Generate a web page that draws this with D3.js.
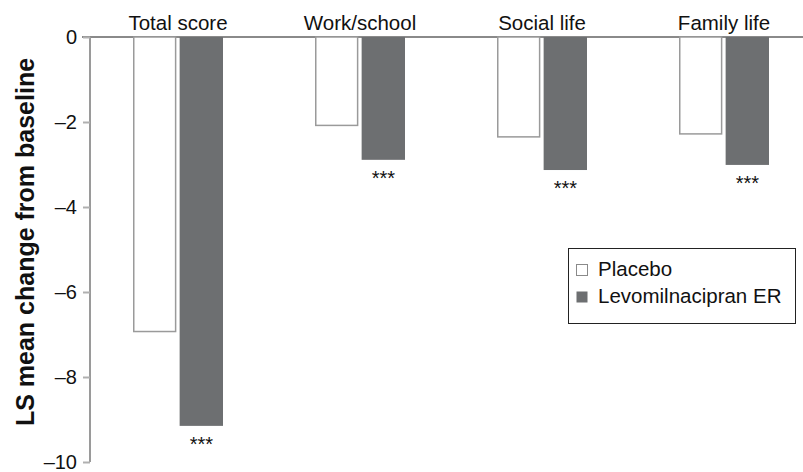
<!DOCTYPE html>
<html><head><meta charset="utf-8">
<script src="https://cdn.jsdelivr.net/npm/d3@7"></script>
<style>body{margin:0;background:#fff}svg{display:block;font-family:Arial,"Liberation Sans",sans-serif}</style>
</head><body>
<svg id="c" width="803" height="472"></svg>
<script>
const categories = ["Total score", "Work/school", "Social life", "Family life"];
const seriesNames = ["Placebo", "Levomilnacipran ER"];
const placebo = [-6.93, -2.08, -2.35, -2.28];
const levomilnacipran = [-9.15, -2.89, -3.13, -3.01];
const significance = ["***", "***", "***", "***"];
const yTicks = [0, -2, -4, -6, -8, -10];

const svg = d3.select("#c");
const y = d3.scaleLinear().domain([0, -10]).range([37, 462]);
const x0 = d3.scaleBand().domain(categories).range([87.5, 814.5]).paddingInner(0.5055).paddingOuter(0.25);
const x1 = d3.scaleBand().domain(seriesNames).range([0, x0.bandwidth()]).paddingInner(0.07);
const colors = {"Placebo": "#ffffff", "Levomilnacipran ER": "#6d6f71"};
const strokes = {"Placebo": "#9a9a9a", "Levomilnacipran ER": "#6d6f71"};

const data = categories.map((c, i) => ({cat: c, vals: [
  {s: seriesNames[0], v: placebo[i]}, {s: seriesNames[1], v: levomilnacipran[i]}], sig: significance[i]}));

// zero line
svg.append("line").attr("x1", 82).attr("x2", 803).attr("y1", y(0)).attr("y2", y(0))
  .attr("stroke", "#8a8a8a").attr("stroke-width", 2);

// y axis
const yAxis = d3.axisLeft(y).tickValues(yTicks).tickSize(7).tickPadding(6)
  .tickFormat(d => d === 0 ? "0" : "\u2013" + Math.abs(d));
const ga = svg.append("g").attr("transform", "translate(90,0)").call(yAxis);
ga.select(".domain").attr("stroke", "#9a9a9a").attr("stroke-width", 2).attr("d", `M0,${y(0)}V${y(-10)}`);
ga.selectAll(".tick line").attr("stroke", "#b0b0b0").attr("stroke-width", 2);
ga.selectAll(".tick text").attr("fill", "#111").style("font-size", "20px").style("font-family", "Arial, 'Liberation Sans', sans-serif");

// bars
const g = svg.selectAll(".grp").data(data).enter().append("g").attr("transform", d => `translate(${x0(d.cat)},0)`);
g.selectAll("rect").data(d => d.vals).enter().append("rect")
  .attr("x", d => x1(d.s) + (d.s === "Placebo" ? 0.75 : 0))
  .attr("y", y(0))
  .attr("width", d => x1.bandwidth() - (d.s === "Placebo" ? 1.5 : 0))
  .attr("height", d => y(d.v) - y(0))
  .attr("fill", d => colors[d.s]).attr("stroke", d => d.s === "Placebo" ? strokes[d.s] : "none")
  .attr("stroke-width", 1.5);

// significance
g.append("text").attr("x", d => x1(seriesNames[1]) + x1.bandwidth() / 2)
  .attr("y", d => y(d.vals[1].v) + 25).attr("text-anchor", "middle")
  .style("font-size", "20px").attr("fill", "#111").text(d => d.sig);

// category labels
svg.selectAll(".cl").data(categories).enter().append("text")
  .attr("x", d => x0(d) + x0.bandwidth() / 2).attr("y", 29.5).attr("text-anchor", "middle")
  .style("font-size", "20.5px").attr("fill", "#111").text(d => d);

// y label
svg.append("text").attr("transform", `translate(34,242) rotate(-90)`)
  .attr("text-anchor", "middle").style("font-size", "25px").style("font-weight", "bold")
  .attr("fill", "#111").text("LS mean change from baseline");

// legend
const lg = svg.append("g");
lg.append("rect").attr("x", 568.5).attr("y", 248.5).attr("width", 227).attr("height", 75)
  .attr("fill", "#fff").attr("stroke", "#222").attr("stroke-width", 1);
seriesNames.forEach((s, i) => {
  const yy = 276 + i * 27;
  lg.append("rect").attr("x", 576.5).attr("y", yy - 11.5).attr("width", 11).attr("height", 11)
    .attr("fill", colors[s]).attr("stroke", s === "Placebo" ? "#8a8a8a" : "none").attr("stroke-width", 1);
  lg.append("text").attr("x", 598).attr("y", yy).style("font-size", "20.5px").attr("fill", "#111").text(s);
});
</script>
</body></html>
